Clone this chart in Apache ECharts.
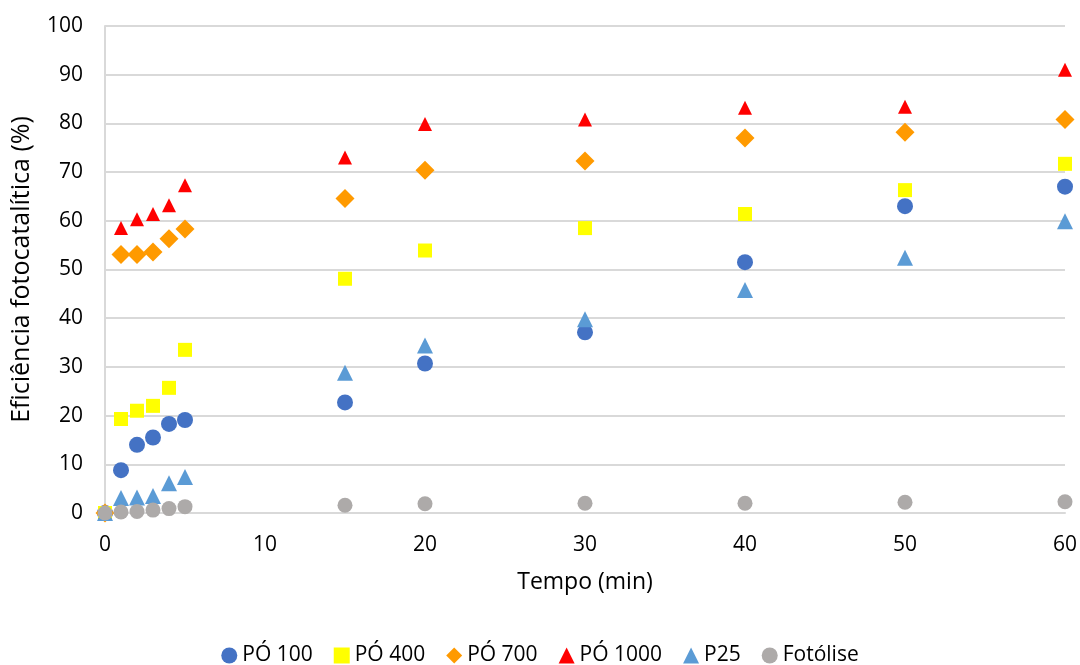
<!DOCTYPE html>
<html><head><meta charset="utf-8">
<script src="https://cdn.jsdelivr.net/npm/echarts@6/dist/echarts.min.js"></script>
<style>html,body{margin:0;padding:0;background:#fff}#c{width:1080px;height:665px}</style>
</head><body><div id="c"></div>
<script>
const times = [0, 1, 2, 3, 4, 5, 15, 20, 30, 40, 50, 60];
const po100 = [0, 8.8, 14.0, 15.5, 18.3, 19.1, 22.7, 30.7, 37.1, 51.5, 63.0, 67.0];
const po400 = [0, 19.3, 21.0, 22.0, 25.7, 33.5, 48.1, 53.9, 58.5, 61.4, 66.3, 71.7];
const po700 = [0, 53.1, 53.1, 53.6, 56.3, 58.3, 64.6, 70.4, 72.3, 77.0, 78.2, 80.8];
const po1000 = [0, 58.5, 60.3, 61.4, 63.2, 67.3, 73.0, 79.9, 80.8, 83.2, 83.4, 91.0];
const p25 = [0, 3.1, 3.2, 3.5, 6.1, 7.4, 28.8, 34.4, 39.8, 45.8, 52.4, 59.9];
const fotolise = [0, 0.2, 0.3, 0.6, 0.9, 1.3, 1.6, 1.9, 2.0, 2.0, 2.2, 2.3];
const seriesNames = ['PÓ 100', 'PÓ 400', 'PÓ 700', 'PÓ 1000', 'P25', 'Fotólise'];

const pair = arr => times.map((t, i) => [t, arr[i]]);
const FONT = 'Open Sans';
const chart = echarts.init(document.getElementById('c'), null, {renderer: 'canvas'});
const mk = (name, data, symbol, size, color) => ({
  name, type: 'scatter', data: pair(data), symbol, symbolSize: size,
  itemStyle: {color, opacity: 1}, emphasis: {disabled: true}
});
chart.setOption({
  animation: false,
  textStyle: {fontFamily: FONT},
  grid: {left: 105, right: 15, top: 26, bottom: 152, containLabel: false, outerBoundsMode: 'none'},
  xAxis: {
    type: 'value', min: 0, max: 60, interval: 10,
    name: 'Tempo (min)', nameLocation: 'middle', nameGap: 58,
    nameTextStyle: {fontSize: 23, color: '#000', fontFamily: FONT},
    axisLine: {show: true, lineStyle: {color: '#D9D9D9', width: 2}},
    axisTick: {show: false},
    splitLine: {show: false},
    axisLabel: {fontSize: 21, color: '#000', margin: 22, fontFamily: FONT}
  },
  yAxis: {
    type: 'value', min: 0, max: 100, interval: 10,
    name: 'Eficiência fotocatalítica (%)', nameLocation: 'middle', nameGap: 71,
    nameTextStyle: {fontSize: 25, color: '#000', fontFamily: FONT},
    axisLine: {show: true, lineStyle: {color: '#D9D9D9', width: 2}},
    axisTick: {show: false},
    splitLine: {show: true, lineStyle: {color: '#D9D9D9', width: 2}},
    axisLabel: {fontSize: 21, color: '#000', margin: 22, fontFamily: FONT}
  },
  legend: {
    top: 640, left: 'center', itemGap: 21, itemWidth: 16, itemHeight: 16,
    textStyle: {fontSize: 21, color: '#000', fontFamily: FONT},
    data: seriesNames.map(n => ({name: n}))
  },
  series: [
    mk(seriesNames[0], po100, 'circle', 16, '#4472C4'),
    mk(seriesNames[1], po400, 'rect', 14, '#FFFF00'),
    mk(seriesNames[2], po700, 'diamond', 19, '#FF9A00'),
    mk(seriesNames[3], po1000, 'triangle', 14, '#FF0000'),
    mk(seriesNames[4], p25, 'triangle', 16, '#5B9BD5'),
    mk(seriesNames[5], fotolise, 'circle', 15, '#ADAAA9')
  ]
});
</script></body></html>
